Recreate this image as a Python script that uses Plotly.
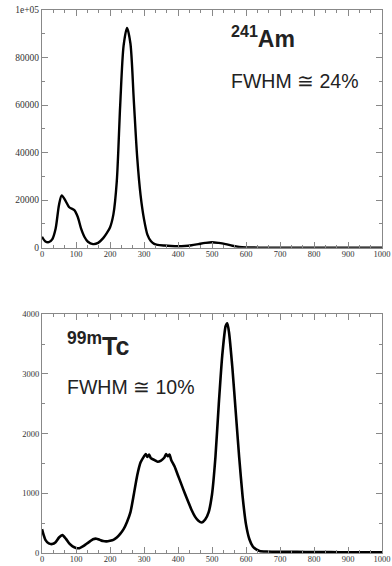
import plotly.graph_objects as go

# ---- 241Am spectrum ----
am_channel = [0, 10, 20, 30, 40, 50, 58, 70, 80, 95, 105, 115, 125, 135, 150, 165, 180, 190,
              200, 210, 220, 230, 240, 250, 260, 270, 280, 290, 300, 310, 320, 330, 340, 360,
              380, 400, 420, 440, 460, 480, 500, 520, 540, 560, 580, 600, 650, 700, 800, 900, 1000]
am_counts = [4600, 2600, 2300, 3500, 8000, 18000, 22000, 19500, 17000, 15800, 13000, 8000, 4500,
             2500, 1500, 2000, 4000, 6000, 8500, 14000, 28000, 60000, 85000, 92500, 86000, 62000,
             38000, 22000, 12000, 5500, 2800, 1600, 1200, 900, 700, 600, 700, 1000, 1500, 2000,
             2300, 2000, 1500, 800, 300, 100, 30, 20, 10, 10, 10]

# ---- 99mTc spectrum ----
tc_channel = [0, 5, 10, 20, 30, 40, 50, 60, 70, 80, 90, 100, 110, 120, 130, 140, 150, 160, 170,
              180, 190, 200, 210, 220, 230, 240, 250, 260, 270, 280, 290, 300, 305, 310, 315, 320,
              330, 340, 350, 360, 365, 370, 375, 380, 390, 400, 410, 420, 430, 440, 450, 460, 470,
              480, 490, 500, 510, 520, 530, 540, 545, 550, 560, 570, 580, 590, 600, 610, 620, 630,
              640, 660, 700, 750, 800, 850, 900, 950, 1000]
tc_counts = [400, 300, 220, 160, 150, 180, 260, 300, 240, 160, 110, 85, 80, 110, 150, 190, 230,
             240, 220, 200, 195, 205, 220, 260, 320, 400, 520, 680, 980, 1300, 1520, 1620, 1660,
             1610, 1650, 1590, 1560, 1530, 1550, 1600, 1660, 1620, 1650, 1560, 1450, 1300, 1150,
             1000, 860, 720, 610, 540, 510, 560, 680, 980, 1600, 2500, 3300, 3800, 3850, 3700,
             3100, 2350, 1600, 950, 480, 230, 110, 60, 35, 25, 20, 20, 15, 15, 10, 10, 10]

x_ticks = [0, 100, 200, 300, 400, 500, 600, 700, 800, 900, 1000]
am_yticks = [0, 20000, 40000, 60000, 80000, 100000]
am_ytext = ["0", "20000", "40000", "60000", "80000", "1e+05"]
tc_yticks = [0, 1000, 2000, 3000, 4000]

fig = go.Figure()
fig.add_trace(go.Scatter(x=am_channel, y=am_counts, mode="lines", xaxis="x", yaxis="y",
                         line=dict(color="black", width=2.4, shape="spline", smoothing=0.8)))
fig.add_trace(go.Scatter(x=tc_channel, y=tc_counts, mode="lines", xaxis="x2", yaxis="y2",
                         line=dict(color="black", width=2.6, shape="spline", smoothing=0.6)))

tick_font = dict(family="Liberation Serif", size=8.5, color="#333")
axis_common = dict(showline=True, linecolor="#888", linewidth=1, mirror="allticks",
                   ticks="inside", ticklen=6, tickcolor="#888", tickwidth=1,
                   showgrid=False, zeroline=False, tickfont=tick_font, automargin=False,
                   ticklabeloverflow="allow")
xaxis_common = dict(axis_common, range=[0, 1000], tickvals=x_ticks, ticklabelstandoff=-2,
                    minor=dict(dtick=100 / 3, tick0=0, ticks="inside", ticklen=3,
                               tickcolor="#888", showgrid=False))

fig.update_layout(
    width=392, height=566,
    margin=dict(l=42, r=10, t=10, b=13, autoexpand=False),
    paper_bgcolor="white", plot_bgcolor="white",
    showlegend=False,
    xaxis=dict(xaxis_common, domain=[0, 1], anchor="y"),
    yaxis=dict(axis_common, domain=[0.5623, 1], anchor="x", range=[0, 100000],
               tickvals=am_yticks, ticktext=am_ytext,
               tickfont=dict(tick_font, size=9.5),
               minor=dict(dtick=10000, ticks="inside", ticklen=3, tickcolor="#888", showgrid=False)),
    xaxis2=dict(xaxis_common, domain=[0, 1], anchor="y2"),
    yaxis2=dict(axis_common, domain=[0, 0.4396], anchor="x2", range=[0, 4000],
                tickvals=tc_yticks,
                minor=dict(dtick=500, ticks="inside", ticklen=3, tickcolor="#888", showgrid=False)),
)

txt = dict(family="Liberation Sans", color="#222")
fig.add_annotation(x=551, y=88500, xref="x", yref="y", xanchor="left", yanchor="middle",
                   text="<b><sup>241</sup>Am</b>", showarrow=False, font=dict(txt, size=23))
fig.add_annotation(x=550, y=70300, xref="x", yref="y", xanchor="left", yanchor="middle",
                   text="FWHM \u2245 24%", showarrow=False, font=dict(txt, size=19.5))
fig.add_annotation(x=67, y=3500, xref="x2", yref="y2", xanchor="left", yanchor="middle",
                   text="<b><sup>99m</sup>Tc</b>", showarrow=False, font=dict(txt, size=25))
fig.add_annotation(x=67, y=2780, xref="x2", yref="y2", xanchor="left", yanchor="middle",
                   text="FWHM \u2245 10%", showarrow=False, font=dict(txt, size=19.5))

# remove the page's default 8px body margin so the figure sits at the window's corner
fig.write_html("out.html", config={"displayModeBar": False},
               post_script="document.body.style.margin='0px';")
